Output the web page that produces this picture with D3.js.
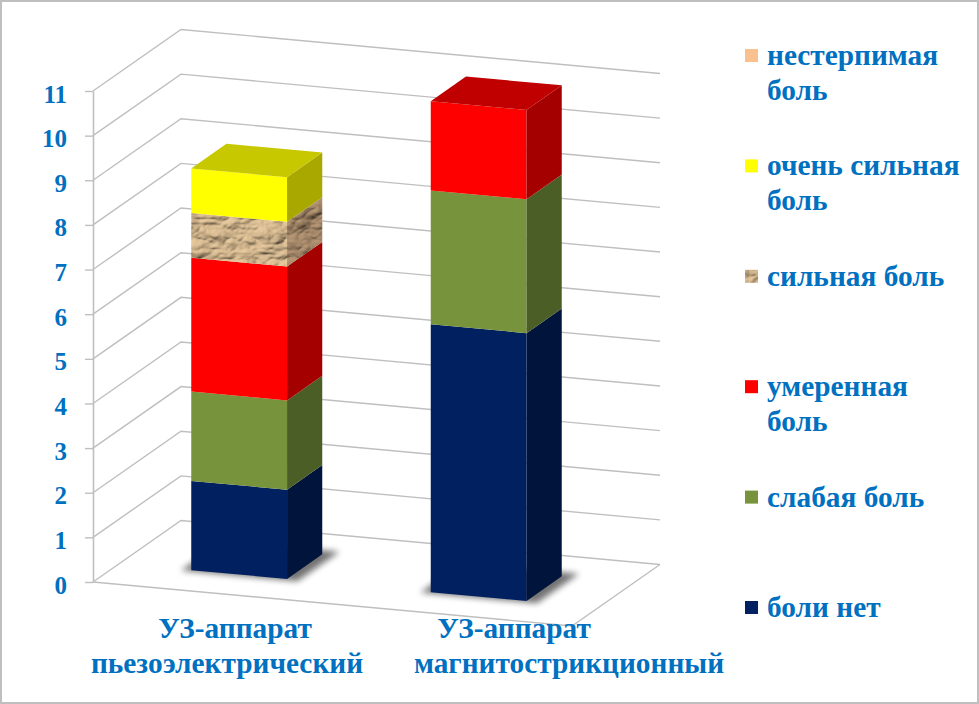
<!DOCTYPE html>
<html><head><meta charset="utf-8">
<script src="https://cdn.jsdelivr.net/npm/d3@7"></script>
<style>html,body{margin:0;padding:0;background:#fff;}</style>
</head><body>
<svg id="chart" width="979" height="704"></svg>
<script>
// ---------- data ----------
const categories = ["УЗ-аппарат пьезоэлектрический", "УЗ-аппарат магнитострикционный"];
const categoryLines = [["УЗ-аппарат", "пьезоэлектрический"], ["УЗ-аппарат", "магнитострикционный"]];
const seriesNames = ["боли нет", "слабая боль", "умеренная боль", "сильная боль", "очень сильная боль", "нестерпимая боль"];
const legendLines = [["боли нет"], ["слабая боль"], ["умеренная", "боль"], ["сильная боль"], ["очень сильная", "боль"], ["нестерпимая", "боль"]];
const noPain = [2, 6];
const mildPain = [2, 3];
const moderatePain = [3, 2];
const severePain = [1, 0];
const verySeverePain = [1, 0];
const unbearablePain = [0, 0];
const yTicks = [0, 1, 2, 3, 4, 5, 6, 7, 8, 9, 10, 11];

// ---------- styles ----------
const FONT = "Liberation Serif";
const TEXT_COLOR = "#0070C0";
const GRID_COLOR = "#BFBFBF";
const faceColors = [
  {front: "#002060", side: "#00143C", top: "#001A4F"},
  {front: "#77933C", side: "#4B5E26", top: "#5F7630"},
  {front: "#FF0000", side: "#A50000", top: "#C00000"},
  {front: "texture", side: "texture-dark", top: "texture"},
  {front: "#FFFF00", side: "#A8A800", top: "#C8C800"},
  {front: "#FAC090", side: "#C89A73", top: "#E0AD82"}
];

const svg = d3.select("#chart");
const W = 979, H = 704;

// defs: crumpled paper texture + shadow blur
const defs = svg.append("defs");
function paperFilter(id, light) {
  const f = defs.append("filter").attr("id", id)
    .attr("x", "0").attr("y", "0").attr("width", "1").attr("height", "1");
  f.append("feTurbulence").attr("type", "turbulence").attr("baseFrequency", "0.035 0.05")
    .attr("numOctaves", 3).attr("seed", 11).attr("result", "noise");
  const dl = f.append("feDiffuseLighting").attr("in", "noise").attr("lighting-color", light)
    .attr("surfaceScale", 4).attr("diffuseConstant", 1.1).attr("result", "lit");
  dl.append("feDistantLight").attr("azimuth", 235).attr("elevation", 48);
  f.append("feComposite").attr("in", "lit").attr("in2", "SourceGraphic").attr("operator", "in");
}
paperFilter("paper", "#E0C298");
paperFilter("paperDark", "#AE9070");
const sh = defs.append("filter").attr("id", "shadow").attr("x", "-50%").attr("y", "-50%").attr("width", "200%").attr("height", "200%");
sh.append("feGaussianBlur").attr("stdDeviation", 3);

// background + border
svg.append("rect").attr("x", 1).attr("y", 1).attr("width", W - 2).attr("height", H - 2)
  .attr("fill", "#fff").attr("stroke", GRID_COLOR).attr("stroke-width", 2);

// ---------- projection (oblique 3D) ----------
const origin = [93, 582];
const axisU = [479, 44];      // along category axis (u: 0..1)
const axisW = [88, -61.5];    // depth (w: 0..1)
const vScale = d3.scaleLinear().domain([0, 11]).range([0, 491]);
function P(u, v, w) {
  return [origin[0] + axisU[0] * u + axisW[0] * w,
          origin[1] + axisU[1] * u + axisW[1] * w - vScale(v)];
}
const line = d3.line();
function quad(pts) { return line(pts) + "Z"; }

const xBand = d3.scaleBand().domain(categories).range([0, 1]).paddingInner(0.6).paddingOuter(0.3);
const depth0 = 0.3, depth1 = 0.7;

// ---------- walls gridlines ----------
const grid = svg.append("g");
yTicks.forEach(t => {
  grid.append("path").attr("d", line([P(0, t, 0), P(0, t, 1), P(1, t, 1)]))
    .attr("fill", "none").attr("stroke", GRID_COLOR).attr("stroke-width", 1.4);
});
grid.append("path").attr("d", line([P(0, 0, 0), P(1, 0, 0), P(1, 0, 1)]))
  .attr("fill", "none").attr("stroke", GRID_COLOR).attr("stroke-width", 1.4);

// ---------- front value axis ----------
const yAxisScale = d3.scaleLinear().domain([0, 11]).range([origin[1], origin[1] - vScale(11)]);
const yAxis = d3.axisLeft(yAxisScale).tickValues(yTicks).tickSize(8).tickSizeOuter(0).tickPadding(18).tickFormat(d3.format("d"));
const ax = svg.append("g").attr("transform", `translate(${origin[0]},0)`).call(yAxis);
ax.attr("font-family", FONT).attr("font-size", 25).attr("font-weight", "bold");
ax.select(".domain").attr("stroke", GRID_COLOR).attr("stroke-width", 1.6);
ax.selectAll(".tick line").attr("stroke", GRID_COLOR).attr("stroke-width", 1.4);
ax.selectAll(".tick text").attr("dy", "0.44em").attr("fill", TEXT_COLOR);

// ---------- stacked 3D bars ----------
const table = categories.map((c, j) => ({
  cat: c,
  s0: noPain[j], s1: mildPain[j], s2: moderatePain[j], s3: severePain[j], s4: verySeverePain[j], s5: unbearablePain[j]
}));
const keys = ["s0", "s1", "s2", "s3", "s4", "s5"];
const stacked = d3.stack().keys(keys)(table);

const bars = svg.append("g");
categories.forEach(c => {
  const u0 = xBand(c) - 0.018, u1 = xBand(c) + xBand.bandwidth() + 0.025;
  bars.append("path").attr("d", quad([P(u0, 0, depth0 - 0.02), P(u1, 0, depth0 - 0.02), P(u1, 0, depth1 + 0.06), P(u0, 0, depth1 + 0.06)]))
    .attr("fill", "#000").attr("opacity", 0.55).attr("filter", "url(#shadow)");
});

function paint(sel, col) {
  if (col === "texture") sel.attr("fill", "#C0A07A").attr("filter", "url(#paper)");
  else if (col === "texture-dark") sel.attr("fill", "#907458").attr("filter", "url(#paperDark)");
  else sel.attr("fill", col);
}

categories.forEach((c, j) => {
  const u0 = xBand(c), u1 = xBand(c) + xBand.bandwidth();
  let topIdx = -1;
  stacked.forEach((layer, i) => { if (layer[j][1] > layer[j][0]) topIdx = i; });
  stacked.forEach((layer, i) => {
    const v0 = layer[j][0], v1 = layer[j][1];
    if (v1 <= v0) return;
    const col = faceColors[i];
    paint(bars.append("path").attr("d", quad([P(u0, v0, depth0), P(u1, v0, depth0), P(u1, v1, depth0), P(u0, v1, depth0)])), col.front);
    paint(bars.append("path").attr("d", quad([P(u1, v0, depth0), P(u1, v0, depth1), P(u1, v1, depth1), P(u1, v1, depth0)])), col.side);
    if (i === topIdx) {
      paint(bars.append("path").attr("d", quad([P(u0, v1, depth0), P(u1, v1, depth0), P(u1, v1, depth1), P(u0, v1, depth1)])), col.top);
    }
  });
});

// ---------- category labels ----------
const labelCenters = [[235, 227], [514, 569]];
const labelBaselines = [638, 673];
const catG = svg.append("g").attr("font-family", FONT).attr("font-weight", "bold").attr("font-size", 29.33).attr("fill", TEXT_COLOR);
categoryLines.forEach((lines, j) => {
  lines.forEach((t, k) => {
    catG.append("text").attr("x", labelCenters[j][k]).attr("y", labelBaselines[k])
      .attr("text-anchor", "middle").text(t);
  });
});

// ---------- legend ----------
const leg = svg.append("g").attr("font-family", FONT).attr("font-weight", "bold").attr("font-size", 29.33).attr("fill", TEXT_COLOR);
const legendTop = 65, legendStep = 110.4, legendLineH = 35;
const order = d3.range(seriesNames.length).reverse();
order.forEach((i, r) => {
  const base = legendTop + r * legendStep;
  paint(leg.append("rect").attr("x", 745).attr("y", base - 16).attr("width", 13).attr("height", 13), faceColors[i].front);
  legendLines[i].forEach((t, k) => {
    leg.append("text").attr("x", 767).attr("y", base + k * legendLineH).text(t);
  });
});
</script>
</body></html>
